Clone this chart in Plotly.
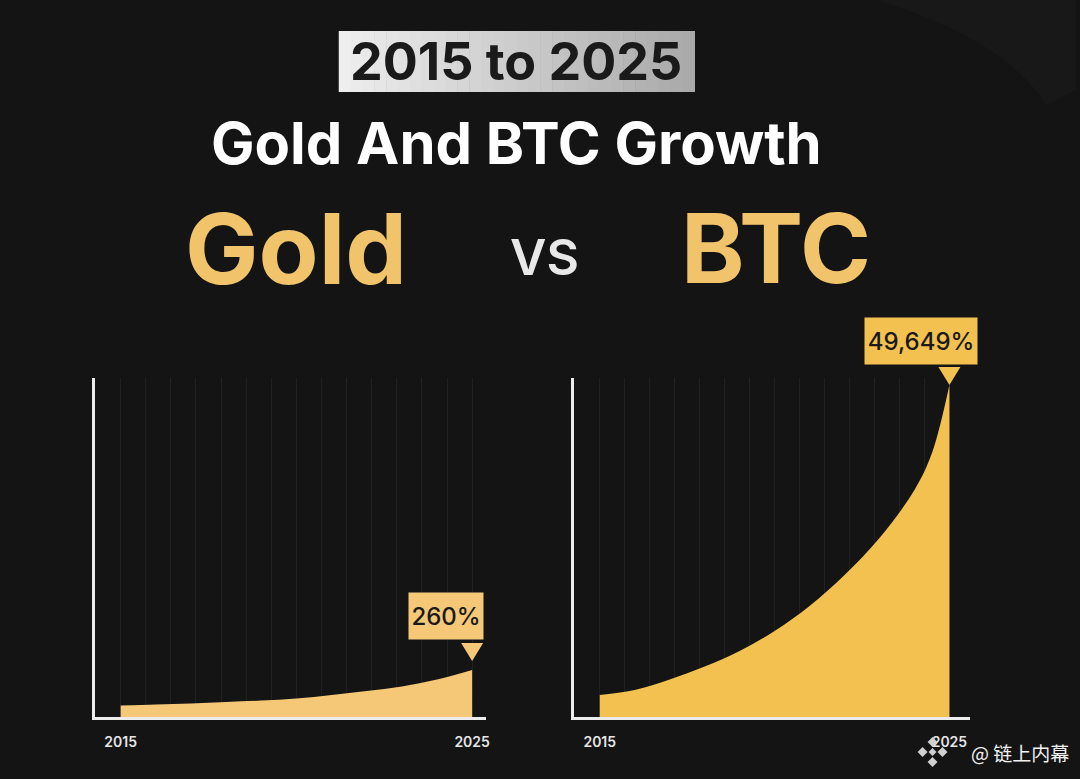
import plotly.graph_objects as go

# ---------------- data ----------------
gold_years = [2015, 2016, 2017, 2018, 2019, 2020, 2021, 2022, 2023, 2024, 2025]
gold_growth = [64, 69, 75, 83, 91, 102, 122, 144, 169, 207, 260]
btc_years = [2015, 2016, 2017, 2018, 2019, 2020, 2021, 2022, 2023, 2024, 2024.5, 2025]
btc_growth = [3290, 4040, 5610, 7550, 9870, 12860, 16600, 21230, 26760, 33940, 39470, 49649]
tick_years = [2015, 2025]
tick_labels = ["2015", "2025"]
gold_label = "260%"
btc_label = "49,649%"

W, H = 1080, 779
BG = "#141414"
GOLD_FILL = "#f4c877"
BTC_FILL = "#f2c14f"
GOLD_TEXT = "#f1c46c"

GOLD_YMAX = 1875
BTC_YMAX = 50700


def px(x):
    return x / W


def py(y):
    return 1 - y / H


Y_DOM = [py(717), py(378)]

fig = go.Figure()

fig.add_trace(go.Scatter(
    x=gold_years, y=gold_growth, mode="lines", line=dict(width=0, shape="spline", color=GOLD_FILL),
    fill="tozeroy", fillcolor=GOLD_FILL, xaxis="x", yaxis="y", hoverinfo="skip", showlegend=False))
fig.add_trace(go.Scatter(
    x=btc_years, y=btc_growth, mode="lines", line=dict(width=0, shape="spline", color=BTC_FILL),
    fill="tozeroy", fillcolor=BTC_FILL, xaxis="x2", yaxis="y2", hoverinfo="skip", showlegend=False))

axis_common = dict(
    showline=True, linecolor="#ececec", linewidth=3, zeroline=False, showgrid=False,
    ticks="", tickfont=dict(family="Inter", size=14, color="#e6e6e6", weight=600),
    tickvals=tick_years, ticktext=tick_labels, ticklabelstandoff=10,
    minor=dict(tick0=2015, dtick=10 / 14, showgrid=True, gridcolor="rgba(255,255,255,0.06)", gridwidth=1),
)
yaxis_common = dict(showline=True, linecolor="#ececec", linewidth=3, zeroline=False,
                    showgrid=False, showticklabels=False, ticks="")

fig.update_layout(
    width=W, height=H, margin=dict(l=0, r=0, t=0, b=0),
    paper_bgcolor=BG, plot_bgcolor="rgba(0,0,0,0)",
    xaxis=dict(domain=[px(95), px(488)], range=[2014.26, 2025.4], anchor="y", **axis_common),
    yaxis=dict(domain=Y_DOM, range=[0, GOLD_YMAX], anchor="x", **yaxis_common),
    xaxis2=dict(domain=[px(576), px(974)], range=[2014.26, 2025.6], anchor="y2", **axis_common),
    yaxis2=dict(domain=Y_DOM, range=[0, BTC_YMAX], anchor="x2", **yaxis_common),
)

shapes = []
# faint background arc region (top right)
shapes.append(dict(type="path", xref="paper", yref="paper", layer="below",
                   path=f"M {px(880)},{py(0)} Q {px(1010)},{py(40)} {px(1050)},{py(105)} L {px(1080)},{py(90)} L {px(1080)},{py(0)} Z",
                   fillcolor="#181818", line=dict(width=0)))
# title badge with gradient (strips)
x0, x1, y0, y1 = 340, 697, 31, 92
n = 30
for i in range(n):
    t = i / (n - 1)
    c = int(238 - t * 68)
    shapes.append(dict(type="rect", xref="paper", yref="paper", layer="below",
                       x0=px(x0 + (x1 - x0) * i / n), x1=px(x0 + (x1 - x0) * (i + 1) / n + 0.6),
                       y0=py(y1), y1=py(y0), fillcolor=f"rgb({c},{c},{c})", line=dict(width=0)))


def anchor_paper(value, ymax):
    return Y_DOM[0] + (Y_DOM[1] - Y_DOM[0]) * value / ymax


# pointer triangles anchored to the final values
shapes.append(dict(type="path", xref="x", yref="paper", xsizemode="pixel", ysizemode="pixel",
                   xanchor=gold_years[-1], yanchor=anchor_paper(gold_growth[-1], GOLD_YMAX),
                   path="M -11,27 L 11,27 L 0,9 Z", fillcolor=GOLD_FILL, line=dict(width=0)))
shapes.append(dict(type="path", xref="x2", yref="paper", xsizemode="pixel", ysizemode="pixel",
                   xanchor=btc_years[-1], yanchor=anchor_paper(btc_growth[-1], BTC_YMAX),
                   path="M -11,18 L 11,18 L 0,0 Z", fillcolor=BTC_FILL, line=dict(width=0)))
# watermark logo (diamond cluster)
cx, cy = 936, 752
for dx, dy, r in [(0, -10, 5), (-10, 0, 5), (0, 10, 5), (10, 0, 5), (0, 0, 4)]:
    shapes.append(dict(type="path", xref="paper", yref="paper",
                       path=f"M {px(cx+dx)},{py(cy+dy-r)} L {px(cx+dx+r)},{py(cy+dy)} L {px(cx+dx)},{py(cy+dy+r)} L {px(cx+dx-r)},{py(cy+dy)} Z",
                       fillcolor="#d0d0d0", line=dict(width=0)))
fig.update_layout(shapes=shapes)


def ptext(text, x, y, size, color, weight=700, family="Inter"):
    return dict(text=text, x=px(x), y=py(y), xref="paper", yref="paper",
                xanchor="center", yanchor="middle", showarrow=False,
                font=dict(family=family, size=size, color=color, weight=weight))


ann = [
    ptext("2015 to 2025", 518, 61, 52, "#1a1a1a"),
    ptext("Gold And BTC Growth", 518, 143, 58, "#ffffff"),
    ptext("Gold", 297, 248, 98, GOLD_TEXT),
    ptext("BTC", 779, 248, 96, GOLD_TEXT),
    ptext("VS", 547, 257, 50, "#e8e8e8", weight=600),
]
# value labels
ann.append(dict(text=gold_label, x=gold_years[-1], y=gold_growth[-1], xref="x", yref="y",
                xanchor="right", yanchor="bottom", xshift=12, yshift=30, showarrow=False,
                width=72, height=44, bgcolor=GOLD_FILL, borderpad=1,
                font=dict(family="Inter", size=24, color="#1a1a1a", weight=500)))
ann.append(dict(text=btc_label, x=btc_years[-1], y=btc_growth[-1], xref="x2", yref="y2",
                xanchor="right", yanchor="bottom", xshift=29, yshift=20, showarrow=False,
                width=110, height=44, bgcolor=BTC_FILL, borderpad=1,
                font=dict(family="Inter", size=24, color="#1a1a1a", weight=500)))
# watermark
ann.append(dict(text="@ 链上内幕", x=px(1075), y=py(752), xref="paper", yref="paper",
                xanchor="right", yanchor="middle", showarrow=False,
                font=dict(family="Noto Sans CJK SC", size=19, color="#f2f2f2")))
fig.update_layout(annotations=ann)

fig.write_html("out.html", config={"displayModeBar": False},
               post_script="document.body.style.margin='0';")
